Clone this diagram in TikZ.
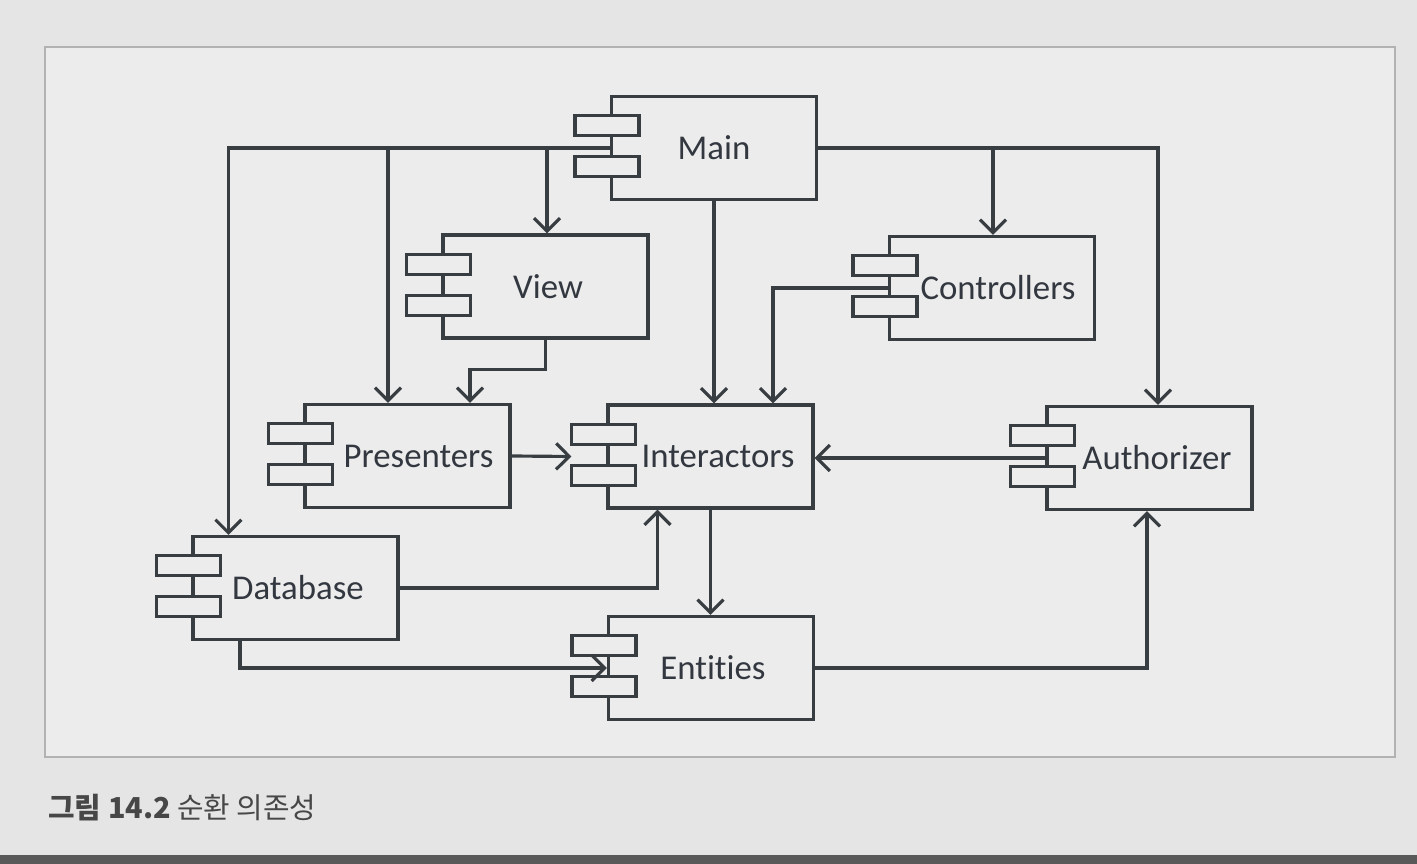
\documentclass[tikz,border=0pt]{standalone}
\usepackage{fontspec}
\setmainfont{Carlito}[Ligatures={NoCommon}]
\newfontfamily\krfont{Noto Sans CJK KR}
\usepackage{xcolor}
\definecolor{pagebg}{rgb}{0.90,0.90,0.90}
\definecolor{framebg}{rgb}{0.925,0.925,0.925}
\definecolor{framebd}{rgb}{0.70,0.70,0.70}
\definecolor{compbd}{rgb}{0.22,0.24,0.26}
\definecolor{comptx}{rgb}{0.20,0.22,0.25}
\usetikzlibrary{positioning, arrows.meta, calc}

% two little tabs on the left edge of a component
\newcommand{\comptabs}[1]{%
  \draw[tab] ([xshift=-0.35cm,yshift=-0.21cm]#1.north west) rectangle ++(0.64,-0.20);
  \draw[tab] ([xshift=-0.35cm,yshift=-0.62cm]#1.north west) rectangle ++(0.64,-0.20);
}

\begin{document}
\begin{tikzpicture}[
  comp/.style={draw=compbd, line width=0.9pt, fill=framebg, minimum width=2.05cm,
    minimum height=1.03cm, font=\fontsize{9.9}{11}\selectfont, text=comptx},
  tab/.style={draw=compbd, line width=0.9pt, fill=framebg},
  dep/.style={draw=compbd, line width=0.9pt, -{Straight Barb[length=1.3mm, width=2.6mm]}},
]
% page and frame
\fill[pagebg] (0,0) rectangle (14.17,-8.64);
\fill[black!65] (0,-8.55) rectangle (14.17,-8.64);
\useasboundingbox (0,0) rectangle (14.17,-8.64);
\draw[framebd, fill=framebg, line width=0.5pt] (0.45,-0.47) rectangle (13.95,-7.57);

% components
\node[comp] (main) at (7.14,-1.48) {Main};
\node[comp] (view) at (5.455,-2.865) {\hspace{0.5mm}View};
\node[comp] (ctrl) at (9.92,-2.88) {\hspace{1.2mm}Controllers};
\node[comp] (pres) at (4.075,-4.56) {\hspace{2.2mm}Presenters};
\node[comp] (inter) at (7.105,-4.565) {\hspace{1.5mm}Interactors};
\node[comp] (auth) at (11.495,-4.58) {\hspace{1.5mm}Authorizer};
\node[comp] (db) at (2.955,-5.88) {\hspace{0.5mm}Database};
\node[comp] (ent) at (7.11,-6.68) {\hspace{0.4mm}Entities};
\comptabs{main}
\comptabs{view}
\comptabs{ctrl}
\comptabs{pres}
\comptabs{inter}
\comptabs{auth}
\comptabs{db}
\comptabs{ent}

% Main depends on everything
\draw[dep] (main.west) -| ([xshift=0.37cm]db.north west);
\draw[dep] (main.west) -| ([xshift=-0.195cm]pres.north);
\draw[dep] (main.west) -| ([xshift=0.015cm]view.north);
\draw[dep] (main.south) -- (main.south |- inter.north);
\draw[dep] (main.east) -| ([xshift=0.085cm]auth.north);
\draw[dep] (main.east) -| ([xshift=0.01cm]ctrl.north);

% outer ring
\draw[dep] (view.south) -- ++(0,-0.3) -| ([xshift=0.625cm]pres.north);
\draw[dep] (ctrl.west) -| ([xshift=0.625cm]inter.north);
\draw[dep] (pres.east) -- ([xshift=-0.35cm]inter.west);
\draw[dep] (auth.west) -- (auth.west -| inter.east);
\draw[dep] (inter.south) -- (inter.south |- ent.north);
\draw[dep] (db.east) -| ([xshift=-0.53cm]inter.south);
\draw[dep] ([xshift=-0.555cm]db.south) |- (ent.west);
\draw[dep] (ent.east) -| ([xshift=-0.025cm]auth.south);

% caption
\node[anchor=west, text=black!72, font=\krfont\fontsize{8.2}{10}\selectfont] (cap) at (0.36,-8.08)
  {\textbf{그림 14.2} 순환 의존성};
\end{tikzpicture}
\end{document}
